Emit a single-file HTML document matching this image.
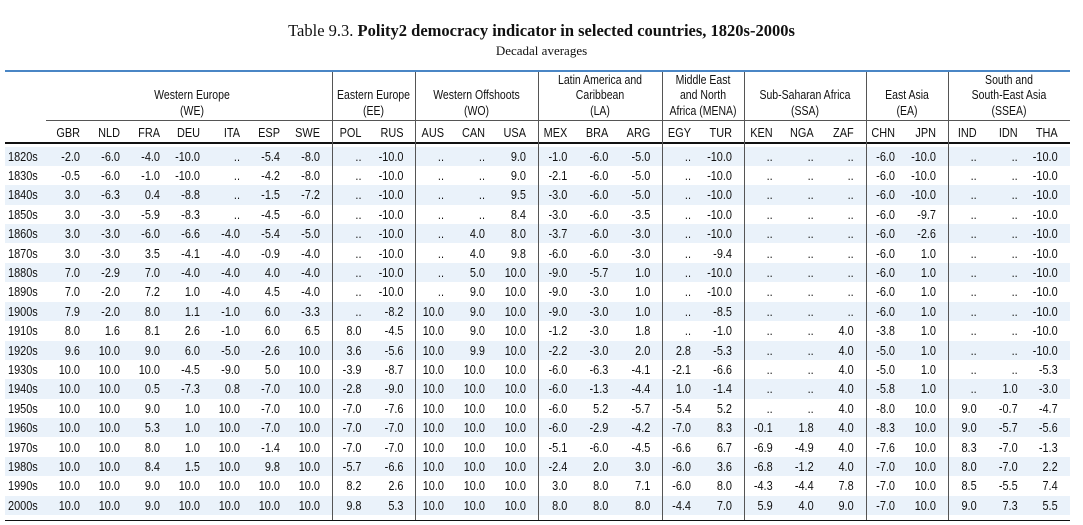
<!DOCTYPE html>
<html><head><meta charset="utf-8">
<style>
html,body{margin:0;padding:0;background:#fff;}
#root{position:relative;width:1083px;height:525px;overflow:hidden;font-family:"Liberation Sans",sans-serif;color:#111;}
.t{position:absolute;white-space:nowrap;}
.title{left:0;width:1083px;text-align:center;top:21px;font-family:"Liberation Serif",serif;font-size:16.5px;}
.sub{left:0;width:1083px;text-align:center;top:43px;font-family:"Liberation Serif",serif;font-size:13px;}
.ln{position:absolute;}
.gh{position:absolute;text-align:center;font-size:12.5px;line-height:15.5px;transform:scaleX(0.84);transform-origin:center;}
.cell{position:absolute;font-size:13px;line-height:19.4px;height:19.4px;text-align:right;transform:scaleX(0.84);transform-origin:right center;}
.cell.lab{transform-origin:left center;}
.shade{position:absolute;background:#eaf2fa;height:19.4px;}
</style></head>
<body>
<div id="root">
<div class="t title">Table 9.3. <b>Polity2 democracy indicator in selected countries, 1820s-2000s</b></div>
<div class="t sub">Decadal averages</div>
</div>
<script>
const groups = ["Western Europe<br>(WE)","Eastern Europe<br>(EE)","Western Offshoots<br>(WO)","Latin America and<br>Caribbean<br>(LA)","Middle East<br>and North<br>Africa (MENA)","Sub-Saharan Africa<br>(SSA)","East Asia<br>(EA)","South and<br>South-East Asia<br>(SSEA)"];
const groupCounts = [7,2,3,3,2,3,2,3];
const countries = ["GBR","NLD","FRA","DEU","ITA","ESP","SWE","POL","RUS","AUS","CAN","USA","MEX","BRA","ARG","EGY","TUR","KEN","NGA","ZAF","CHN","JPN","IND","IDN","THA"];
const decades = ["1820s","1830s","1840s","1850s","1860s","1870s","1880s","1890s","1900s","1910s","1920s","1930s","1940s","1950s","1960s","1970s","1980s","1990s","2000s"];
const values = [
"-2.0 -6.0 -4.0 -10.0 .. -5.4 -8.0 .. -10.0 .. .. 9.0 -1.0 -6.0 -5.0 .. -10.0 .. .. .. -6.0 -10.0 .. .. -10.0",
"-0.5 -6.0 -1.0 -10.0 .. -4.2 -8.0 .. -10.0 .. .. 9.0 -2.1 -6.0 -5.0 .. -10.0 .. .. .. -6.0 -10.0 .. .. -10.0",
"3.0 -6.3 0.4 -8.8 .. -1.5 -7.2 .. -10.0 .. .. 9.5 -3.0 -6.0 -5.0 .. -10.0 .. .. .. -6.0 -10.0 .. .. -10.0",
"3.0 -3.0 -5.9 -8.3 .. -4.5 -6.0 .. -10.0 .. .. 8.4 -3.0 -6.0 -3.5 .. -10.0 .. .. .. -6.0 -9.7 .. .. -10.0",
"3.0 -3.0 -6.0 -6.6 -4.0 -5.4 -5.0 .. -10.0 .. 4.0 8.0 -3.7 -6.0 -3.0 .. -10.0 .. .. .. -6.0 -2.6 .. .. -10.0",
"3.0 -3.0 3.5 -4.1 -4.0 -0.9 -4.0 .. -10.0 .. 4.0 9.8 -6.0 -6.0 -3.0 .. -9.4 .. .. .. -6.0 1.0 .. .. -10.0",
"7.0 -2.9 7.0 -4.0 -4.0 4.0 -4.0 .. -10.0 .. 5.0 10.0 -9.0 -5.7 1.0 .. -10.0 .. .. .. -6.0 1.0 .. .. -10.0",
"7.0 -2.0 7.2 1.0 -4.0 4.5 -4.0 .. -10.0 .. 9.0 10.0 -9.0 -3.0 1.0 .. -10.0 .. .. .. -6.0 1.0 .. .. -10.0",
"7.9 -2.0 8.0 1.1 -1.0 6.0 -3.3 .. -8.2 10.0 9.0 10.0 -9.0 -3.0 1.0 .. -8.5 .. .. .. -6.0 1.0 .. .. -10.0",
"8.0 1.6 8.1 2.6 -1.0 6.0 6.5 8.0 -4.5 10.0 9.0 10.0 -1.2 -3.0 1.8 .. -1.0 .. .. 4.0 -3.8 1.0 .. .. -10.0",
"9.6 10.0 9.0 6.0 -5.0 -2.6 10.0 3.6 -5.6 10.0 9.9 10.0 -2.2 -3.0 2.0 2.8 -5.3 .. .. 4.0 -5.0 1.0 .. .. -10.0",
"10.0 10.0 10.0 -4.5 -9.0 5.0 10.0 -3.9 -8.7 10.0 10.0 10.0 -6.0 -6.3 -4.1 -2.1 -6.6 .. .. 4.0 -5.0 1.0 .. .. -5.3",
"10.0 10.0 0.5 -7.3 0.8 -7.0 10.0 -2.8 -9.0 10.0 10.0 10.0 -6.0 -1.3 -4.4 1.0 -1.4 .. .. 4.0 -5.8 1.0 .. 1.0 -3.0",
"10.0 10.0 9.0 1.0 10.0 -7.0 10.0 -7.0 -7.6 10.0 10.0 10.0 -6.0 5.2 -5.7 -5.4 5.2 .. .. 4.0 -8.0 10.0 9.0 -0.7 -4.7",
"10.0 10.0 5.3 1.0 10.0 -7.0 10.0 -7.0 -7.0 10.0 10.0 10.0 -6.0 -2.9 -4.2 -7.0 8.3 -0.1 1.8 4.0 -8.3 10.0 9.0 -5.7 -5.6",
"10.0 10.0 8.0 1.0 10.0 -1.4 10.0 -7.0 -7.0 10.0 10.0 10.0 -5.1 -6.0 -4.5 -6.6 6.7 -6.9 -4.9 4.0 -7.6 10.0 8.3 -7.0 -1.3",
"10.0 10.0 8.4 1.5 10.0 9.8 10.0 -5.7 -6.6 10.0 10.0 10.0 -2.4 2.0 3.0 -6.0 3.6 -6.8 -1.2 4.0 -7.0 10.0 8.0 -7.0 2.2",
"10.0 10.0 9.0 10.0 10.0 10.0 10.0 8.2 2.6 10.0 10.0 10.0 3.0 8.0 7.1 -6.0 8.0 -4.3 -4.4 7.8 -7.0 10.0 8.5 -5.5 7.4",
"10.0 10.0 9.0 10.0 10.0 10.0 10.0 9.8 5.3 10.0 10.0 10.0 8.0 8.0 8.0 -4.4 7.0 5.9 4.0 9.0 -7.0 10.0 9.0 7.3 5.5"
];
const root = document.getElementById('root');
const bounds = [52,332,415,538,662,744,866,948,1070];
const L = 5, R = 1070, rowTop = 146.5, rowH = 19.4;
function add(cls, css, html){
  const d = document.createElement('div');
  d.className = cls; d.style.cssText = css; if (html !== undefined) d.innerHTML = html;
  root.appendChild(d); return d;
}
decades.forEach((d,i)=>{
  if (i%2===0){
    const s = add('shade', `left:${L}px;width:${R-L}px;top:${rowTop+i*rowH}px;`);
    
    
  }
});
let e;
e = add('ln', `left:${L}px;width:${R-L}px;top:70px;height:2px;background:#4a86c5;`);


e = add('ln', `left:${bounds[0]-6}px;width:${R-bounds[0]+6}px;top:120px;height:1px;background:#555;`);


e = add('ln', `left:${L}px;width:${R-L}px;top:142px;height:1.5px;background:#111;`);


e = add('ln', `left:${L}px;width:${R-L}px;top:519.5px;height:1.5px;background:#111;`);


for (let g=1; g<bounds.length-1; g++){
  e = add('ln', `left:${bounds[g]-0.5}px;width:1.2px;top:72px;height:448px;background:#555;`);
  
  
}
const colX = [];
groups.forEach((g,gi)=>{
  const x0 = bounds[gi], x1 = bounds[gi+1];
  const h = add('gh', `left:${x0-10}px;width:${x1-x0+20}px;bottom:${525-119}px;`, g);
  
  
  const n = groupCounts[gi], w = (x1-x0)/n;
  for (let k=0;k<n;k++) colX.push([x0+k*w, w]);
});
countries.forEach((c,ci)=>{
  const [x,w] = colX[ci];
  const h = add('cell', `left:${x-20}px;width:${w-12+20}px;top:122.5px;`, c);
  
  
});
decades.forEach((d,i)=>{
  const y = rowTop + i*rowH;
  const lab = add('cell lab', `left:8px;width:44px;text-align:left;top:${y}px;`, d);
  
  
  const vals = values[i].split(' ');
  vals.forEach((v,ci)=>{
    const [x,w] = colX[ci];
    const c = add('cell', `left:${x-20}px;width:${w-12+20}px;top:${y}px;`, v);
    
    
  });
});
</script>
</body></html>
